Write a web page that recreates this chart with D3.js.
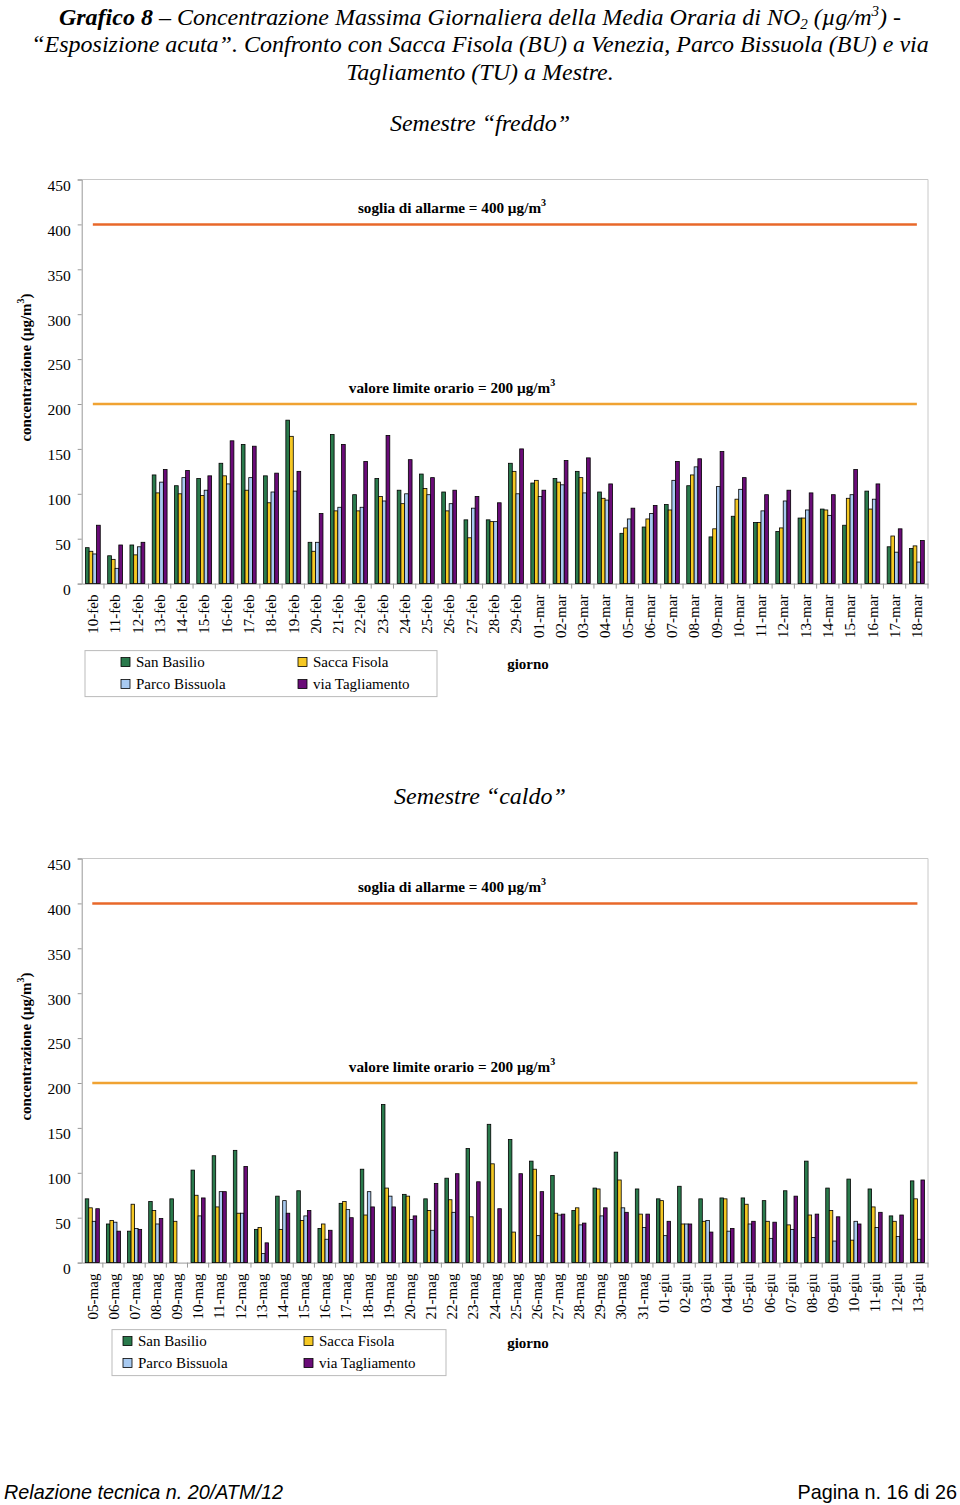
<!DOCTYPE html>
<html><head><meta charset="utf-8">
<script src="https://cdn.jsdelivr.net/npm/d3@7"></script>
<style>body{margin:0;background:#fff}svg{display:block}</style>
</head><body>
<svg id="c" width="960" height="1505"></svg>
<script>
const seriesNames = ["San Basilio","Sacca Fisola","Parco Bissuola","via Tagliamento"];
const seriesColors = ["#2a7a4c","#f5c824","#a8caf1","#6a0c78"];

const catsCold = ["10-feb","11-feb","12-feb","13-feb","14-feb","15-feb","16-feb","17-feb","18-feb","19-feb","20-feb","21-feb","22-feb","23-feb","24-feb","25-feb","26-feb","27-feb","28-feb","29-feb","01-mar","02-mar","03-mar","04-mar","05-mar","06-mar","07-mar","08-mar","09-mar","10-mar","11-mar","12-mar","13-mar","14-mar","15-mar","16-mar","17-mar","18-mar"];
const sanBasilioCold = [40,31,43,121,109,117,134,155,120,182,46,166,99,117,104,122,102,71,71,134,112,117,125,102,56,63,88,109,52,75,68,58,73,83,65,103,41,39];
const saccaFisolaCold = [36,27,32,101,100,98,120,104,90,164,36,81,81,97,89,106,81,51,69,125,115,113,118,95,62,72,82,121,61,94,68,62,73,82,95,83,53,42];
const parcoBissuolaCold = [33,17,41,113,118,104,111,118,102,103,46,85,85,92,100,99,89,84,69,100,97,110,101,93,72,78,115,130,108,105,81,92,82,76,99,94,35,24];
const viaTagliamentoCold = [65,43,46,127,126,120,159,153,123,125,78,155,136,165,138,118,104,97,90,150,104,137,140,111,84,87,136,139,147,118,99,104,101,99,127,111,61,48];

const catsHot = ["05-mag","06-mag","07-mag","08-mag","09-mag","10-mag","11-mag","12-mag","13-mag","14-mag","15-mag","16-mag","17-mag","18-mag","19-mag","20-mag","21-mag","22-mag","23-mag","24-mag","25-mag","26-mag","27-mag","28-mag","29-mag","30-mag","31-mag","01-giu","02-giu","03-giu","04-giu","05-giu","06-giu","07-giu","08-giu","09-giu","10-giu","11-giu","12-giu","13-giu"];
const sanBasilioHot = [71,43,35,68,71,103,119,125,37,74,80,38,66,104,176,76,71,94,127,154,137,113,97,58,83,123,82,71,85,71,72,72,69,80,113,83,93,82,52,91];
const saccaFisolaHot = [61,47,65,58,46,75,62,55,39,37,47,43,68,53,83,74,58,70,51,110,34,104,55,61,82,92,54,69,43,46,71,65,46,42,53,58,25,62,46,71];
const parcoBissuolaHot = [46,45,38,43,null,52,79,55,10,69,52,26,59,79,74,48,36,56,null,null,null,30,53,42,52,61,39,30,43,47,35,43,27,37,28,24,46,39,29,26];
const viaTagliamentoHot = [60,35,37,49,null,72,79,107,22,55,58,36,50,62,62,52,88,99,90,60,99,79,54,44,61,56,54,46,43,34,38,46,45,74,54,51,43,56,53,92];

const yTicks = [0,50,100,150,200,250,300,350,400,450];
const limits = [{v:400,label:"soglia di allarme = 400 µg/m",color:"#e8682a"},{v:200,label:"valore limite orario = 200 µg/m",color:"#f0a232"}];

const svg = d3.select("#c");
const serif = "'Liberation Serif','Times New Roman',serif";

// Title
const t = svg.append("g").attr("font-family", serif).attr("font-style","italic").attr("font-size",24).attr("text-anchor","middle").attr("fill","#000");
const l1 = t.append("text").attr("x",480).attr("y",25);
l1.append("tspan").attr("font-weight","bold").text("Grafico 8");
l1.append("tspan").text(" – Concentrazione Massima Giornaliera della Media Oraria di NO");
l1.append("tspan").attr("font-size",15).attr("dy",4).text("2");
l1.append("tspan").attr("dy",-4).text(" (µg/m");
l1.append("tspan").attr("font-size",15).attr("dy",-9).text("3");
l1.append("tspan").attr("dy",9).text(") -");
t.append("text").attr("x",480).attr("y",52).text("“Esposizione acuta”. Confronto con Sacca Fisola (BU) a Venezia, Parco Bissuola (BU) e via");
t.append("text").attr("x",480).attr("y",80).text("Tagliamento (TU) a Mestre.");

function drawChart(cfg){
  const g = svg.append("g");
  const x0 = 81.7, x1 = 928, top = cfg.top, base = cfg.top + 404.1;
  g.append("text").attr("x",480).attr("y",cfg.subY).attr("text-anchor","middle")
    .attr("font-family",serif).attr("font-style","italic").attr("font-size",24).text(cfg.subtitle);
  const x = d3.scaleBand().domain(cfg.cats).range([x0,x1]).padding(0);
  const bw = x.bandwidth();
  const xi = d3.scaleBand().domain(d3.range(4)).range([bw/6, bw*5/6]).padding(0);
  const y = d3.scaleLinear().domain([0,450]).range([base, top]);
  // frame
  g.append("line").attr("x1",x0).attr("x2",x1).attr("y1",top).attr("y2",top).attr("stroke","#c8c8c8");
  g.append("line").attr("x1",x1).attr("x2",x1).attr("y1",top).attr("y2",base).attr("stroke","#c8c8c8");
  // y axis
  const ya = g.append("g").attr("transform",`translate(${x0},0)`)
    .call(d3.axisLeft(y).tickValues(yTicks).tickSize(4).tickPadding(7).tickFormat(d3.format("d")));
  ya.select(".domain").attr("stroke","#999");
  ya.selectAll(".tick line").attr("stroke","#999");
  ya.selectAll("text").attr("font-family",serif).attr("font-size",15.5).attr("fill","#000").attr("dy","0.7em");
  // x axis
  const xa = g.append("g").attr("transform",`translate(0,${base})`)
    .call(d3.axisBottom(x).tickSize(0).tickPadding(0));
  xa.select(".domain").attr("stroke","#999");
  xa.selectAll(".tick text").attr("font-family",serif).attr("font-size",15).attr("fill","#000")
    .attr("text-anchor","end").attr("transform","rotate(-90)").attr("x",-11).attr("y",0).attr("dy","0.35em");
  g.selectAll(".sep").data(cfg.cats).enter().append("line")
    .attr("x1",d=>x(d)+bw).attr("x2",d=>x(d)+bw).attr("y1",base).attr("y2",base+5).attr("stroke","#999");
  // limit lines
  limits.forEach(L=>{
    g.append("line").attr("x1",x(cfg.cats[0])+bw/2).attr("x2",x(cfg.cats[cfg.cats.length-1])+bw/2)
      .attr("y1",y(L.v)).attr("y2",y(L.v)).attr("stroke",L.color).attr("stroke-width",2.5);
    const tx = g.append("text").attr("x",452).attr("y",y(L.v)-11).attr("text-anchor","middle")
      .attr("font-family",serif).attr("font-weight","bold").attr("font-size",15.2).text(L.label);
    tx.append("tspan").attr("font-size",10).attr("dy",-7).text("3");
  });
  // bars
  cfg.series.forEach((vals,si)=>{
    g.append("g").selectAll("rect").data(vals.map((v,i)=>({v,c:cfg.cats[i]})).filter(d=>d.v!=null))
      .enter().append("rect")
      .attr("x",d=>x(d.c)+xi(si)).attr("width",xi.bandwidth())
      .attr("y",d=>y(d.v)).attr("height",d=>base-y(d.v))
      .attr("fill",seriesColors[si]).attr("stroke","#000").attr("stroke-width",0.8);
  });
  // y title
  const yt = g.append("text").attr("transform",`translate(31,${cfg.top+188}) rotate(-90)`).attr("text-anchor","middle")
    .attr("font-family",serif).attr("font-weight","bold").attr("font-size",15);
  yt.append("tspan").text("concentrazione (µg/m");
  yt.append("tspan").attr("font-size",10).attr("dy",-7).text("3");
  yt.append("tspan").attr("dy",7).text(")");
  // legend
  const lg = g.append("g").attr("transform",`translate(${cfg.legX},${base+67})`);
  lg.append("rect").attr("x",0).attr("y",0).attr("width",cfg.legW).attr("height",46).attr("fill","#fff").attr("stroke","#bbb");
  const pos = [[cfg.c1,0],[cfg.c2,0],[cfg.c1,1],[cfg.c2,1]];
  [0,1,2,3].forEach(k=>{
    const p = pos[k];
    lg.append("rect").attr("x",p[0]).attr("y",7+p[1]*22).attr("width",9).attr("height",9)
      .attr("fill",seriesColors[k]).attr("stroke","#000").attr("stroke-width",0.8);
    lg.append("text").attr("x",p[0]+15).attr("y",16.5+p[1]*22).attr("font-family",serif).attr("font-size",15).text(seriesNames[k]);
  });
  g.append("text").attr("x",528).attr("y",base+85).attr("text-anchor","middle").attr("font-family",serif)
    .attr("font-weight","bold").attr("font-size",15).text("giorno");
}

drawChart({top:179.5,subY:131,subtitle:"Semestre “freddo”",cats:catsCold,series:[sanBasilioCold,saccaFisolaCold,parcoBissuolaCold,viaTagliamentoCold],legX:85,legW:352,c1:36,c2:213});
drawChart({top:858.5,subY:804,subtitle:"Semestre “caldo”",cats:catsHot,series:[sanBasilioHot,saccaFisolaHot,parcoBissuolaHot,viaTagliamentoHot],legX:112,legW:334,c1:11,c2:192});

// footer
svg.append("text").attr("x",4).attr("y",1499).attr("font-family","'Liberation Sans',Arial,sans-serif").attr("font-style","italic").attr("font-size",19.8).text("Relazione tecnica n. 20/ATM/12");
svg.append("text").attr("x",957).attr("y",1499).attr("text-anchor","end").attr("font-family","'Liberation Sans',Arial,sans-serif").attr("font-size",19.8).text("Pagina n. 16 di 26");
</script>
</body></html>
